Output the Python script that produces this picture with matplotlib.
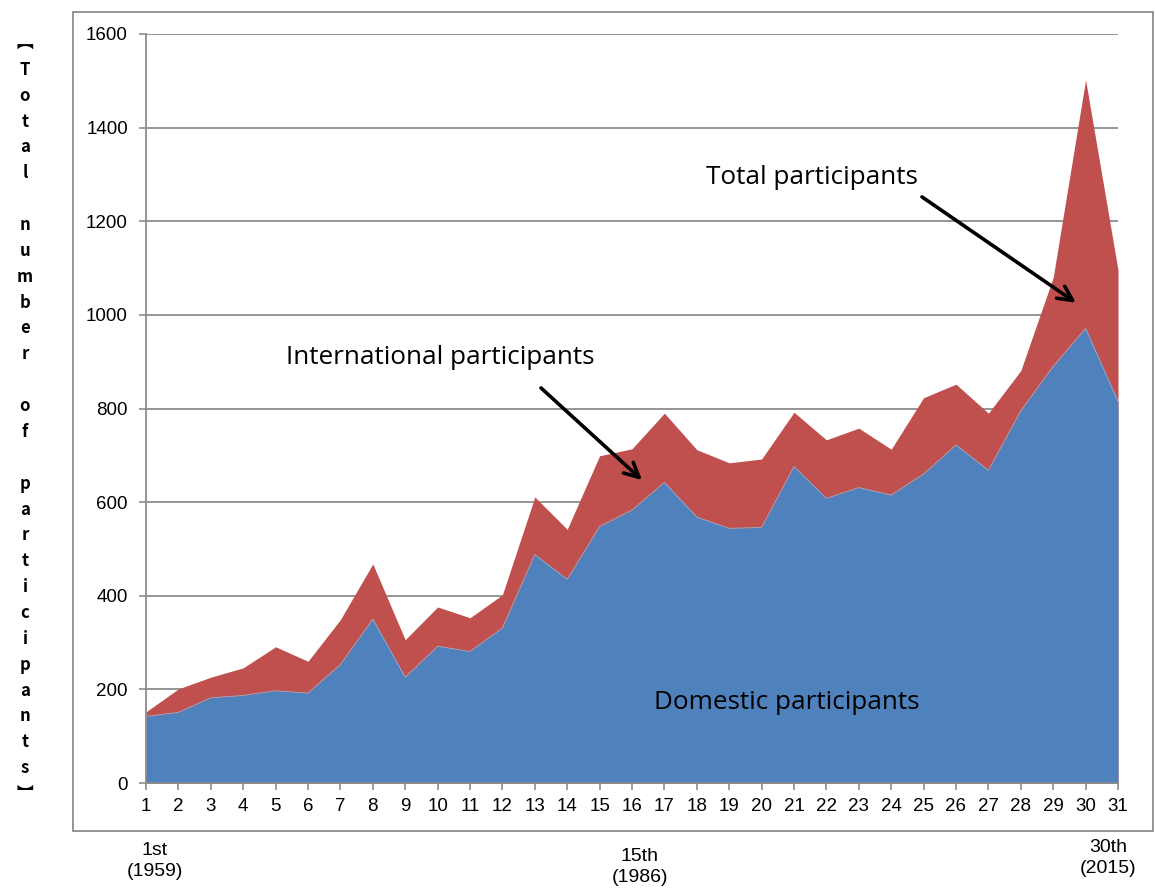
import matplotlib
matplotlib.use("Agg")
import matplotlib.pyplot as plt
from matplotlib.patches import Rectangle
import numpy as np

sessions = list(range(1, 32))
domestic = [142, 151, 182, 187, 197, 192, 253, 350, 226, 292, 281, 331, 488,
            435, 548, 583, 642, 568, 544, 546, 676, 608, 631, 615, 660, 722,
            668, 795, 890, 971, 815]
total = [152, 201, 226, 246, 291, 260, 349, 468, 306, 376, 353, 402, 611,
         542, 699, 714, 790, 712, 684, 692, 792, 733, 758, 713, 823, 852,
         790, 881, 1080, 1502, 1096]
yticks = [0, 200, 400, 600, 800, 1000, 1200, 1400, 1600]
ylabel_text = "︻Total number of participants︼"
bottom_labels = [(1, "1st\n(1959)"), (15, "15th\n(1986)"), (30, "30th\n(2015)")]

W, H = 1155, 890
fig = plt.figure(figsize=(W / 100, H / 100), dpi=100)
ax = fig.add_axes([146 / W, 1 - 783 / H, (1118 - 146) / W, (783 - 34) / H])

blue = "#4F81BD"
red = "#C0504D"
ax.fill_between(sessions, total, 0, color=red, lw=0)
ax.fill_between(sessions, domestic, 0, color=blue, lw=0)
ax.plot(sessions, domestic, color="#9ab0d0", lw=0.6)

ax.set_xlim(1, 31)
ax.set_ylim(0, 1600)
ax.set_yticks(yticks)
ax.set_xticks(sessions)
ax.yaxis.grid(True, color="#8c8c8c", lw=1.3)
ax.set_axisbelow(True)
for s in ["top", "right"]:
    ax.spines[s].set_visible(False)
for s in ["left", "bottom"]:
    ax.spines[s].set_color("#8c8c8c")
    ax.spines[s].set_linewidth(1.3)
ax.tick_params(axis="both", colors="#8c8c8c", length=5, width=1.2, direction="out",
               labelcolor="black")
tickfont = dict(family=["Liberation Sans"], size=13.5)
ax.set_yticklabels([str(v) for v in yticks], **tickfont)
ax.set_xticklabels([str(v) for v in sessions], **tickfont)
ax.tick_params(axis="x", pad=6)
ax.tick_params(axis="y", pad=8)

# outer frame
fig.patches.append(Rectangle((73 / W, 1 - 831 / H), (1153 - 73) / W, (831 - 12) / H,
                             transform=fig.transFigure, fill=False,
                             edgecolor="#8c8c8c", lw=1.3))

annfont = dict(family=["Open Sans", "DejaVu Sans"], size=18.8)
arrow = dict(arrowstyle="->", color="black", lw=2.6, mutation_scale=26,
             shrinkA=0, shrinkB=0)
ax.text(21.55, 1293, "Total participants", ha="center", va="center", **annfont)
ax.annotate("", xy=(29.7, 1026), xytext=(24.95, 1252), arrowprops=arrow)
ax.text(10.07, 908, "International participants", ha="center", va="center", **annfont)
ax.annotate("", xy=(16.31, 647), xytext=(13.19, 844), arrowprops=arrow)
ax.text(20.78, 171, "Domestic participants", ha="center", va="center", **annfont)

# vertical y label
chars = list(ylabel_text)
y0, y1 = 44, 794
n = len(chars)
for i, c in enumerate(chars):
    yy = y0 + (y1 - y0) * i / (n - 1)
    fig.text(25 / W, 1 - yy / H, c, ha="center", va="center", fontsize=12,
             fontweight="bold", family=["Noto Sans CJK JP", "DejaVu Sans"])

# bottom labels
xpos = {1: (155, 861), 15: (640, 867), 30: (1108, 858)}
for k, lab in bottom_labels:
    px, py = xpos[k]
    fig.text(px / W, 1 - py / H, lab, ha="center", va="center", fontsize=14,
             family=["Liberation Sans"], linespacing=1.3)

fig.savefig("out.png", dpi=100)
